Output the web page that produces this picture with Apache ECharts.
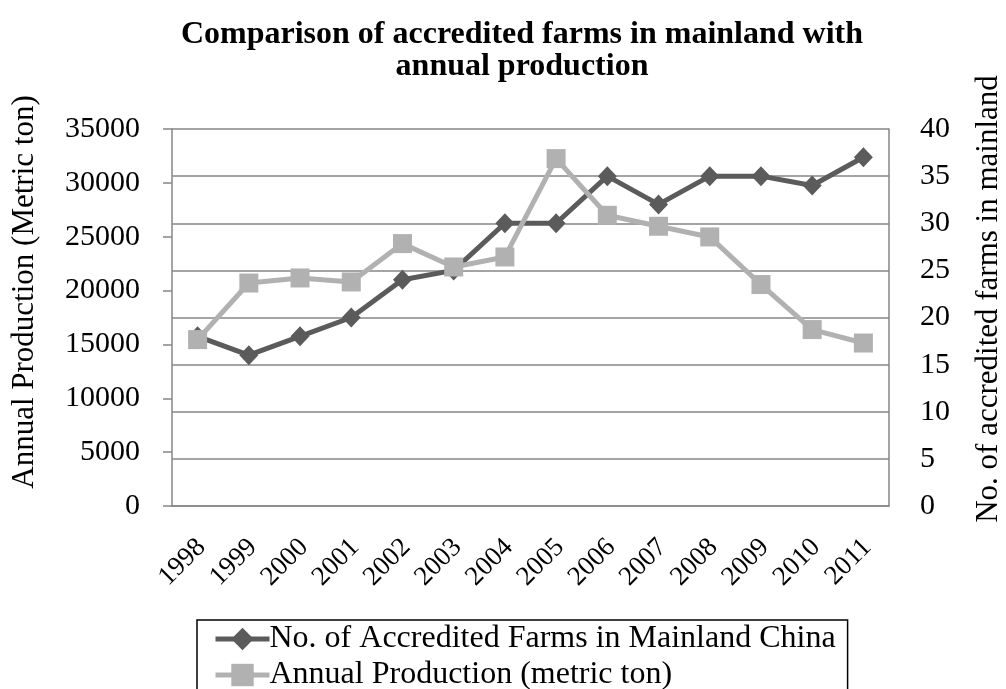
<!DOCTYPE html>
<html>
<head>
<meta charset="utf-8">
<script src="https://cdn.jsdelivr.net/npm/echarts@6/dist/echarts.min.js"></script>
<style>
  html, body { margin: 0; padding: 0; background: #fff; }
  #chart { width: 1006px; height: 689px; }
</style>
</head>
<body>
<div id="chart"></div>
<script>
// Years on the category axis
const years = ['1998', '1999', '2000', '2001', '2002', '2003', '2004',
               '2005', '2006', '2007', '2008', '2009', '2010', '2011'];
// Number of accredited farms (right axis)
const farms = [18, 16, 18, 20, 24, 25, 30, 30, 35, 32, 35, 35, 34, 37];
// Annual production in metric tons (left axis)
const production = [15450, 20700, 21170, 20800, 24360, 22190, 23120,
                    32250, 26990, 25970, 24980, 20560, 16380, 15130];

const leftTicks = { min: 0, max: 35000, interval: 5000 };
const rightTicks = { min: 0, max: 40, interval: 5 };

const serif = '"Liberation Serif", "Times New Roman", serif';
const axisGray = '#868686';
const farmsColor = '#5b5b5b';
const prodColor = '#b1b1b1';
const farmsName = 'No. of Accredited Farms in Mainland China';
const prodName = 'Annual Production (metric ton)';

const chart = echarts.init(document.getElementById('chart'), null, { renderer: 'canvas' });

chart.setOption({
  backgroundColor: '#ffffff',
  animation: false,
  title: {
    text: 'Comparison of accredited farms in mainland with\nannual production',
    left: 517,
    top: 14,
    textAlign: 'center',
    textStyle: {
      fontFamily: serif,
      fontWeight: 'bold',
      fontSize: 32,
      lineHeight: 32,
      color: '#000'
    }
  },
  grid: { left: 172, right: 117, top: 129, bottom: 183, containLabel: false },
  legend: {
    orient: 'vertical',
    left: 197,
    top: 620,
    height: 140,
    padding: [3, 12, 12, 16],
    itemGap: 4,
    itemWidth: 54,
    itemHeight: 28,
    borderColor: '#000',
    borderWidth: 1.5,
    borderRadius: 0,
    lineStyle: { width: 5 },
    textStyle: { fontFamily: serif, fontSize: 32, lineHeight: 32, color: '#000', padding: [0, 0, 0, -5] },
    data: [farmsName, prodName]
  },
  xAxis: {
    type: 'category',
    data: years,
    boundaryGap: true,
    axisLine: { show: true, lineStyle: { color: axisGray, width: 1.5 } },
    axisTick: { show: false },
    axisLabel: {
      interval: 0,
      rotate: 45,
      margin: 22,
      verticalAlign: 'top',
      padding: [0, 8, 0, 0],
      fontFamily: serif,
      fontSize: 27,
      color: '#000'
    },
    splitLine: { show: false }
  },
  yAxis: [
    {
      type: 'value',
      position: 'left',
      min: leftTicks.min,
      max: leftTicks.max,
      interval: leftTicks.interval,
      axisLine: { show: true, lineStyle: { color: axisGray, width: 1.5 } },
      axisTick: { show: true, inside: false, length: 9, lineStyle: { color: axisGray, width: 1.5 } },
      axisLabel: {
        fontFamily: serif, fontSize: 30, color: '#000', margin: 32,
        formatter: v => String(v)
      },
      splitLine: { show: false }
    },
    {
      type: 'value',
      position: 'right',
      min: rightTicks.min,
      max: rightTicks.max,
      interval: rightTicks.interval,
      axisLine: { show: true, lineStyle: { color: axisGray, width: 1.5 } },
      axisTick: { show: false },
      axisLabel: { fontFamily: serif, fontSize: 30, color: '#000', margin: 31 },
      splitLine: { show: true, lineStyle: { color: axisGray, width: 1.5 } }
    }
  ],
  graphic: [
    {
      type: 'text',
      x: 25, y: 292,
      rotation: Math.PI / 2,
      style: {
        text: 'Annual Production (Metric ton)',
        fontFamily: serif, fontSize: 31, fill: '#000',
        textAlign: 'center', textVerticalAlign: 'middle'
      }
    },
    {
      type: 'text',
      x: 989, y: 299,
      rotation: Math.PI / 2,
      style: {
        text: 'No. of accredited farms in mainland',
        fontFamily: serif, fontSize: 31, fill: '#000',
        textAlign: 'center', textVerticalAlign: 'middle'
      }
    }
  ],
  series: [
    {
      name: prodName,
      type: 'line',
      yAxisIndex: 0,
      data: production,
      symbol: 'rect',
      symbolSize: 19,
      z: 2,
      lineStyle: { color: prodColor, width: 5 },
      itemStyle: { color: prodColor }
    },
    {
      name: farmsName,
      type: 'line',
      yAxisIndex: 1,
      data: farms,
      symbol: 'diamond',
      symbolSize: [19, 20],
      z: 1,
      lineStyle: { color: farmsColor, width: 5 },
      itemStyle: { color: farmsColor }
    }
  ]
});
</script>
</body>
</html>
